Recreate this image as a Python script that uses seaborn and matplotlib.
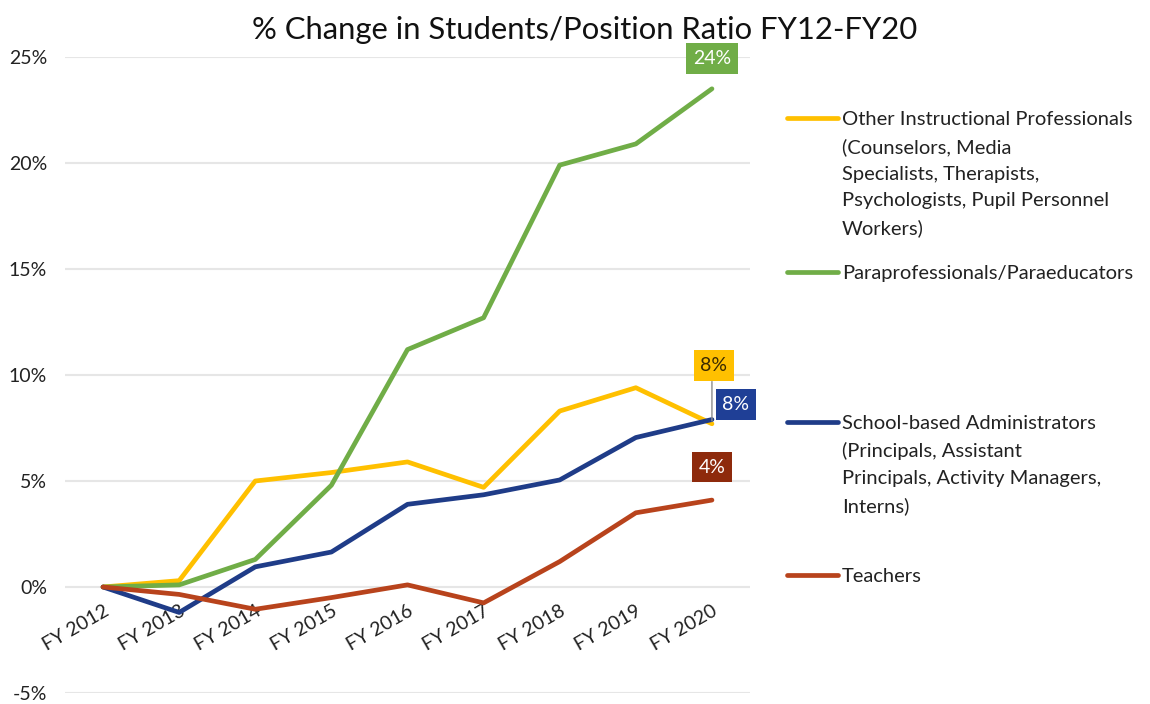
import matplotlib
matplotlib.use("Agg")
import matplotlib.pyplot as plt
from matplotlib.lines import Line2D
import seaborn as sns
import pandas as pd

years = ["FY 2012", "FY 2013", "FY 2014", "FY 2015", "FY 2016",
         "FY 2017", "FY 2018", "FY 2019", "FY 2020"]
other_prof = [0, 0.3, 5.0, 5.4, 5.9, 4.7, 8.3, 9.4, 7.7]
para_prof = [0, 0.1, 1.3, 4.8, 11.2, 12.7, 19.9, 20.9, 23.5]
admins = [0, -1.2, 0.95, 1.65, 3.9, 4.35, 5.05, 7.05, 7.9]
teachers = [0, -0.35, -1.05, -0.5, 0.1, -0.75, 1.2, 3.5, 4.1]

series_names = ["Other", "Para", "Admin", "Teachers"]
legend_labels = [
    "Other Instructional Professionals\n(Counselors, Media\nSpecialists, Therapists,\nPsychologists, Pupil Personnel\nWorkers)",
    "Paraprofessionals/Paraeducators",
    "School-based Administrators\n(Principals, Assistant\nPrincipals, Activity Managers,\nInterns)",
    "Teachers",
]
line_colors = ["#FFC000", "#70AD47", "#1F3C88", "#B8431C"]
box_colors = ["#FFC000", "#70AD47", "#1F3F96", "#8E2A0C"]
box_text_colors = ["#3a2a00", "white", "white", "white"]

# long table for seaborn
rows = []
for name, vals in zip(series_names, [other_prof, para_prof, admins, teachers]):
    for i, v in enumerate(vals):
        rows.append({"pos": i, "value": v, "series": name})
df = pd.DataFrame(rows)

sns.set_theme(style="white")
plt.rcParams["font.family"] = ["Lato", "DejaVu Sans"]

fig = plt.figure(figsize=(11.5, 7.04), dpi=100)
ax = fig.add_axes([65 / 1150, 11 / 704, (750 - 65) / 1150, (693 - 57) / 704])

sns.lineplot(data=df, x="pos", y="value", hue="series", hue_order=series_names,
             palette=dict(zip(series_names, line_colors)), linewidth=3.4,
             sort=False, legend=False, ax=ax)
for ln in ax.get_lines():
    ln.set_solid_capstyle("round")
    ln.set_solid_joinstyle("round")

ax.set_xlim(-0.5, 8.5)
ax.set_ylim(-5, 25)
ax.set_yticks([-5, 0, 5, 10, 15, 20, 25])
ax.set_yticklabels([f"{t}%" for t in [-5, 0, 5, 10, 15, 20, 25]])
ax.yaxis.grid(True, color="#e6e6e6", linewidth=1.5)
ax.set_axisbelow(True)
ax.set_xlabel("")
ax.set_ylabel("")
for sp in ax.spines.values():
    sp.set_visible(False)
ax.spines["bottom"].set_position(("data", 0))
ax.set_xticks(range(len(years)))
ax.set_xticklabels(years, rotation=30, ha="right", va="top", rotation_mode="anchor")
ax.tick_params(axis="x", length=0, pad=11, labelsize=14, labelcolor="#222222")
ax.tick_params(axis="y", length=0, pad=13, labelsize=14, labelcolor="#222222")

# end-of-line data labels
offsets = [(2, 58), (0, 30), (24, 15), (0, 33)]
all_vals = [other_prof, para_prof, admins, teachers]
for vals, (dx, dy), bc, tc in zip(all_vals, offsets, box_colors, box_text_colors):
    last = len(vals) - 1
    ax.annotate(f"{vals[last]:.0f}%", xy=(last, vals[last]), xytext=(dx, dy),
                textcoords="offset pixels", ha="center", va="center",
                fontsize=14, color=tc,
                bbox=dict(boxstyle="square,pad=0.35", fc=bc, ec="none"))
# leader line for the yellow label
ax.annotate("", xy=(len(years) - 1, other_prof[-1]), xytext=(0, 45),
            textcoords="offset pixels",
            arrowprops=dict(arrowstyle="-", color="#8c8c8c", lw=1))

fig.text(0.508, 0.957, "% Change in Students/Position Ratio FY12-FY20",
         ha="center", va="center", fontsize=22.3, color="#111111")

# legend placed by hand (entries are unevenly spaced)
legend_y = [118, 272, 422, 575]
for lab, col, y in zip(legend_labels, line_colors, legend_y):
    fy = 1 - y / 704
    fig.add_artist(Line2D([787 / 1150, 838 / 1150], [fy, fy], color=col,
                          linewidth=3.4, solid_capstyle="round"))
    fig.text(842 / 1150, 1 - (y - 7) / 704, lab, ha="left", va="top",
             fontsize=14.5, color="#222222", linespacing=1.68)

fig.savefig("out.png", dpi=100)
